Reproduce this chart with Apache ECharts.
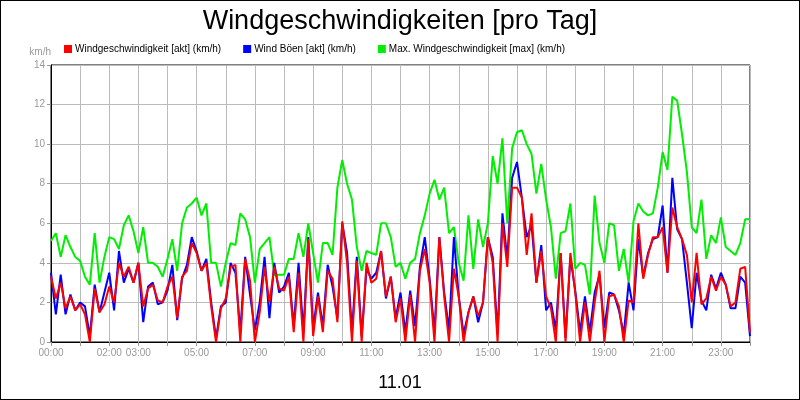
<!DOCTYPE html>
<html><head><meta charset="utf-8">
<script src="https://cdn.jsdelivr.net/npm/echarts@6/dist/echarts.min.js"></script>
<style>html,body{margin:0;padding:0;background:#fff}#c{width:798px;height:398px;border:1px solid #000}</style>
</head><body><div id="c"></div>
<script>
const tickLabels = ['00:00','02:00','03:00','05:00','07:00','09:00','11:00','13:00','15:00','17:00','19:00','21:00','23:00'];
const tickHours = [0,2,3,5,7,9,11,13,15,17,19,21,23];
const stepMinutes = 10;
const maxWind = [
5.1,5.5,4.3,5.4,4.8,4.3, 4.1,3.3,2.9,5.5,3.0,4.3, 5.3,5.2,4.7,5.9,6.4,5.6, 4.5,5.8,4.0,4.0,3.8,3.3,
4.2,5.2,3.6,6.0,6.8,7.0, 7.3,6.4,7.0,4.0,4.0,2.8, 4.0,5.0,4.9,6.5,6.2,5.3, 3.0,4.7,5.0,5.3,3.4,3.4,
3.4,4.2,4.2,5.5,4.3,6.0, 4.5,3.0,5.0,5.0,4.4,7.8, 9.2,8.0,7.2,4.8,3.6,4.6, 4.5,4.4,6.0,6.0,5.3,3.8,
4.0,3.2,4.0,4.2,5.5,6.4, 7.5,8.2,7.2,7.8,5.5,5.8, 4.0,3.1,6.4,3.7,6.2,4.8, 6.0,9.4,8.0,10.3,6.0,9.8,
10.6,10.7,10.0,9.5,7.5,9.0, 7.2,5.8,3.2,5.5,5.6,7.0, 3.7,4.0,3.9,2.4,7.4,5.0, 4.0,6.0,5.9,3.6,4.7,3.0,
6.1,7.0,6.6,6.4,6.5,7.8, 9.6,8.7,12.4,12.2,10.5,8.6, 5.8,5.5,7.2,4.2,5.4,5.0, 6.3,4.8,4.6,4.4,5.0,6.2, 6.2];
const actWind = [
3.3,2.2,3.0,1.7,2.3,1.6, 1.9,1.4,0.0,2.7,1.5,1.9, 2.8,2.0,4.0,3.3,3.8,3.0, 4.0,1.8,2.7,2.9,2.1,2.0,
2.8,3.3,1.2,3.3,3.6,5.0, 4.5,3.6,4.0,1.8,0.0,1.7, 2.2,3.8,3.9,0.0,4.2,3.1, 0.0,1.5,3.8,2.0,3.8,2.7,
2.6,3.3,0.5,3.5,0.0,5.2, 0.3,2.3,0.5,3.6,3.2,1.0, 6.1,4.0,0.0,4.1,0.0,4.0, 3.0,3.2,4.6,2.3,3.3,1.0,
2.2,0.0,2.4,0.0,3.6,4.7, 3.0,0.0,5.3,2.3,0.0,3.7, 2.3,0.0,1.5,2.3,1.3,2.0, 5.3,4.0,0.0,6.0,3.8,7.8,
7.8,7.3,4.4,6.5,3.0,4.6, 2.3,1.7,0.0,4.5,0.0,4.5, 2.5,0.0,2.0,0.0,2.0,3.6, 0.0,2.3,2.4,1.8,0.0,2.1,
2.0,6.0,3.2,4.4,5.3,5.3, 5.8,3.5,6.8,5.8,5.2,4.4, 2.0,4.5,1.9,2.2,3.3,2.6, 3.3,2.9,1.8,2.0,3.7,3.8, 0.5];
const gustWind = [
3.5,1.4,3.4,1.4,2.4,1.6, 2.0,1.8,0.3,2.9,1.5,2.5, 3.5,1.6,4.6,3.0,3.7,3.0, 4.0,1.0,2.8,3.0,1.9,2.0,
2.6,3.9,1.1,3.2,3.9,5.3, 4.6,3.6,4.2,2.0,0.2,1.8, 2.0,4.0,3.5,0.5,4.3,2.4, 0.6,2.0,4.3,1.2,4.0,2.5,
2.8,3.5,0.8,4.0,0.5,5.3, 0.7,2.5,0.8,3.9,2.8,1.2, 6.0,4.5,0.5,4.3,0.3,3.7, 3.2,3.5,4.6,2.2,3.3,1.2,
2.5,0.5,2.6,0.8,3.8,5.3, 3.2,0.5,5.3,2.5,0.6,5.3, 2.3,0.4,1.5,2.3,1.0,2.0, 5.3,4.3,0.4,6.5,4.2,8.3,
9.1,7.3,5.3,5.9,3.0,4.9, 1.6,2.0,0.6,4.5,0.2,4.3, 2.6,0.5,2.3,0.5,2.5,3.4, 0.7,2.5,2.4,1.6,0.4,3.0,
1.6,5.2,3.3,4.5,5.2,5.3, 6.9,3.5,8.3,5.7,5.2,3.0, 0.7,3.5,2.1,1.6,3.4,2.7, 3.5,2.9,1.7,1.7,3.3,3.0, 0.3];

const toPairs = a => a.map((v,i)=>[i*stepMinutes, v]);
const chart = echarts.init(document.getElementById('c'));
chart.setOption({
  animation:false,
  title:[{text:'Windgeschwindigkeiten [pro Tag]',left:'center',top:2,textStyle:{fontFamily:'Liberation Sans',fontSize:27,fontWeight:'normal',color:'#000'}},
         {text:'11.01',left:'center',top:368,textStyle:{fontFamily:'Liberation Sans',fontSize:18,fontWeight:'normal',color:'#000'}}],
  legend:{left:58,top:38,itemWidth:8,itemHeight:8,itemGap:22,icon:'rect',
    textStyle:{fontFamily:'Liberation Sans',fontSize:10,color:'#000',padding:[0,0,0,-2]},
    data:['Windgeschwindigkeit [akt] (km/h)','Wind Böen [akt] (km/h)','Max. Windgeschwindigkeit [max] (km/h)']},
  grid:{left:50,right:49,top:64,bottom:57,show:true,borderColor:'#000',borderWidth:1},
  xAxis:{type:'value',min:0,max:1440,interval:60,
    axisLine:{lineStyle:{color:'#000'}},axisTick:{show:true,length:4,lineStyle:{color:'#999'}},
    splitLine:{show:true,lineStyle:{color:'#bbb'}},
    axisLabel:{fontFamily:'Liberation Sans',fontSize:10,color:'#999',margin:6,
      formatter:v=>{const k=tickHours.indexOf(v/60);return k>=0?tickLabels[k]:'';}}},
  yAxis:{type:'value',min:0,max:14,interval:2,name:'km/h',nameGap:8,
    nameTextStyle:{fontFamily:'Liberation Sans',fontSize:10,color:'#999',align:'right',padding:[0,0,0,0]},
    axisLine:{show:true,lineStyle:{color:'#000'}},axisTick:{show:true,length:4,lineStyle:{color:'#999'}},
    splitLine:{lineStyle:{color:'#bbb'}},
    axisLabel:{fontFamily:'Liberation Sans',fontSize:10,color:'#999',margin:6}},
  series:[
    {name:'Max. Windgeschwindigkeit [max] (km/h)',type:'line',data:toPairs(maxWind),symbol:'none',lineStyle:{color:'#00ee00',width:2},itemStyle:{color:'#00ee00'},z:1},
    {name:'Wind Böen [akt] (km/h)',type:'line',data:toPairs(gustWind),symbol:'none',lineStyle:{color:'#0000ff',width:2},itemStyle:{color:'#0000ff'},z:2},
    {name:'Windgeschwindigkeit [akt] (km/h)',type:'line',data:toPairs(actWind),symbol:'none',lineStyle:{color:'#ff0000',width:2},itemStyle:{color:'#ff0000'},z:3}
  ]
});
</script></body></html>
